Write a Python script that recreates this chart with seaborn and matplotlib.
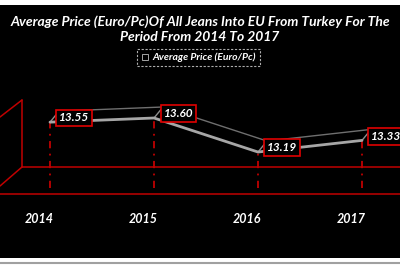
import matplotlib
matplotlib.use("Agg")
import matplotlib.pyplot as plt
import seaborn as sns
import pandas as pd
from matplotlib.transforms import ScaledTranslation
from matplotlib.patches import Rectangle, ConnectionPatch
from matplotlib.lines import Line2D

years = ["2014", "2015", "2016", "2017"]
prices = [13.55, 13.60, 13.19, 13.33]
series_name = "Average Price (Euro/Pc)"
title = "Average Price (Euro/Pc)Of All Jeans Into EU From Turkey For The\nPeriod From 2014 To 2017"

sns.set_theme(style="white")
plt.rcParams['font.family'] = ['Lato', 'DejaVu Sans']

RED = "#c00000"
W, H = 400, 266
fig = plt.figure(figsize=(4, 2.66), dpi=100)
fig.patch.set_facecolor("white")

# black chart area
fig.patches.append(Rectangle((0, 8/H), 1, 253/H, transform=fig.transFigure,
                             facecolor="black", edgecolor="none", zorder=-5))
fig.lines.append(Line2D([0, 1], [3/H, 3/H], transform=fig.transFigure, color="#a0a0a0", lw=1.5, zorder=-5))

# plot axes: from y=5px to y=194px
ax = fig.add_axes([0, (H-194)/H, 1, 189/H])
ax.set_zorder(2)
ax.set_facecolor("none")

df = pd.DataFrame({"year": years, "price": prices})
sns.lineplot(data=df, x="year", y="price", ax=ax, color="#a6a6a6", lw=2.0, zorder=4)

ax.set_xlim(-0.4808, 3.3654)
ax.set_ylim(12.6843, 14.9614)
for s in ax.spines.values():
    s.set_visible(False)
ax.set_xlabel("")
ax.set_ylabel("")
ax.set_yticks([])
ax.set_xticks(range(len(years)))
ax.set_xticklabels(years, color="white", fontsize=9, fontweight="bold", fontstyle="italic")
ax.tick_params(axis="x", length=0, pad=14)
for lab in ax.get_xticklabels():
    lab.set_transform(lab.get_transform() + ScaledTranslation(-0.11, 0, fig.dpi_scale_trans))

# back edge of 3D ribbon
off = ax.transData + ScaledTranslation(0.09, 0.11, fig.dpi_scale_trans)
ax.plot(range(len(years)), prices, transform=off, color="#6f6f6f", lw=1.0, zorder=3)
for i, v in enumerate(prices):
    cp = ConnectionPatch(xyA=(i, v), coordsA=ax.transData, xyB=(i, v), coordsB=off,
                         color="#8c8c8c", lw=1.0, zorder=3)
    ax.add_artist(cp)

# drop lines
ylo, yhi = ax.get_ylim()
drop_end = ylo + 0.03 * (yhi - ylo)
ax.vlines(range(len(years)), drop_end, prices, colors=RED, lw=1.3,
          linestyles=[(0, (4, 3, 1, 3))], zorder=2)

# floor & left wall (axes fraction)
kw = dict(transform=ax.transAxes, color=RED, lw=1.1, clip_on=False, zorder=1)
ax.plot([0, 1], [0, 0], **kw)
ax.plot([0.055, 1], [27/189, 27/189], **kw)
ax.plot([0.055, 0.055], [27/189, 94/189], **kw)
ax.plot([0, 0.055], [77/189, 94/189], **kw)
ax.plot([0, 0.055], [8/189, 27/189], **kw)

# data labels
for i, v in enumerate(prices):
    ax.annotate(f"{v:.2f}", (i, v), xytext=(17.5, 3), textcoords="offset points",
                ha="center", va="center", color="white", fontsize=8.5,
                fontweight="bold", fontstyle="italic", zorder=6, annotation_clip=False,
                bbox=dict(boxstyle="square,pad=0.25", fc="black", ec="#e00000", lw=1.2))

# title
fig.text(0.5, 1 - 29/H, title, ha="center", va="center", color="white",
         fontsize=10, fontweight="bold", fontstyle="italic", linespacing=1.25)

# legend
h = Line2D([], [], marker="s", ls="none", markersize=4.5, markerfacecolor="none",
           markeredgecolor="#bfbfbf", markeredgewidth=0.6)
leg = fig.legend([h], [series_name], loc="center", bbox_to_anchor=(198.5/W, 1 - 57.5/H),
                 bbox_transform=fig.transFigure, frameon=True, fontsize=7.5,
                 handlelength=0.8, handletextpad=0.3, borderpad=0.4, borderaxespad=0)
for t in leg.get_texts():
    t.set_color("white")
    t.set_fontstyle("italic")
    t.set_fontweight("bold")
fr = leg.get_frame()
fr.set_facecolor("black")
fr.set_edgecolor("#d9d9d9")
fr.set_linestyle((0, (2, 1.5)))
fr.set_linewidth(0.8)
fr.set_boxstyle("square", pad=0)

fig.savefig("out.png", dpi=100, facecolor=fig.get_facecolor())
